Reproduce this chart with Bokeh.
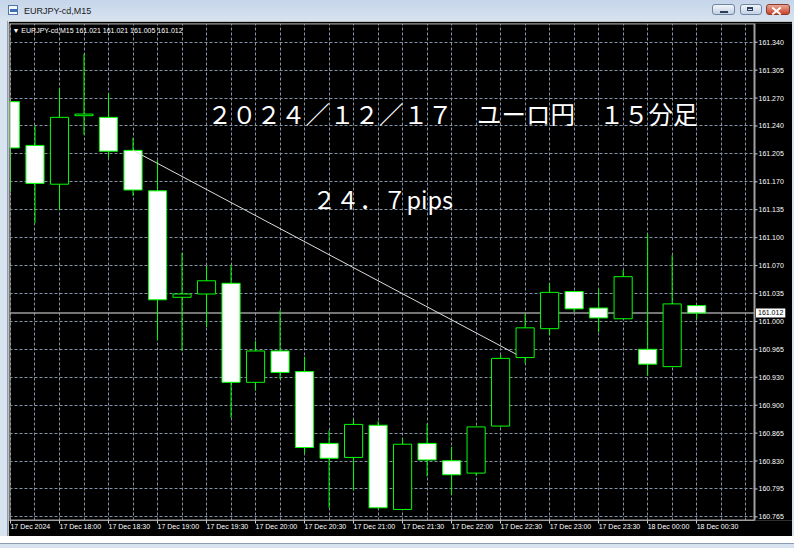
import numpy as np
from bokeh.plotting import figure
from bokeh.models import ColumnDataSource, Range1d, FixedTicker, Label, Span, Div
from bokeh.layouts import column, row
from bokeh.embed import file_html
from bokeh.resources import INLINE
from bokeh.core.properties import value

# ---------------- data ----------------
symbol = "EURJPY-cd,M15"
bar_times = ["17 Dec 17:30", "17 Dec 17:45", "17 Dec 18:00", "17 Dec 18:15", "17 Dec 18:30",
             "17 Dec 18:45", "17 Dec 19:00", "17 Dec 19:15", "17 Dec 19:30", "17 Dec 19:45",
             "17 Dec 20:00", "17 Dec 20:15", "17 Dec 20:30", "17 Dec 20:45", "17 Dec 21:00",
             "17 Dec 21:15", "17 Dec 21:30", "17 Dec 21:45", "17 Dec 22:00", "17 Dec 22:15",
             "17 Dec 22:30", "17 Dec 22:45", "17 Dec 23:00", "17 Dec 23:15", "17 Dec 23:30",
             "17 Dec 23:45", "18 Dec 00:00", "18 Dec 00:15", "18 Dec 00:30"]
opens = [161.268, 161.215, 161.168, 161.251, 161.249, 161.209, 161.160, 161.031, 161.035, 161.048,
         160.928, 160.966, 160.941, 160.854, 160.837, 160.876, 160.774, 160.854, 160.833, 160.818,
         160.875, 160.958, 160.993, 161.038, 161.018, 161.005, 160.968, 160.947, 161.021]
highs = [161.270, 161.239, 161.284, 161.326, 161.278, 161.224, 161.197, 161.085, 161.069, 161.070,
         160.978, 161.015, 160.959, 160.870, 160.883, 160.881, 160.860, 160.878, 160.850, 160.874,
         160.961, 161.011, 161.048, 161.038, 161.041, 161.064, 161.108, 161.082, 161.021]
lows = [161.159, 161.121, 161.137, 161.228, 161.200, 161.154, 160.979, 160.966, 160.995, 160.885,
        160.918, 160.932, 160.842, 160.776, 160.797, 160.775, 160.774, 160.814, 160.792, 160.815,
        160.874, 160.951, 160.985, 161.013, 160.989, 161.005, 160.936, 160.947, 161.005]
closes = [161.212, 161.169, 161.249, 161.253, 161.208, 161.161, 161.028, 161.035, 161.051, 160.928,
          160.966, 160.940, 160.849, 160.836, 160.877, 160.776, 160.853, 160.834, 160.816, 160.874,
          160.957, 160.994, 161.037, 161.017, 161.006, 161.056, 160.950, 161.023, 161.012]

price_tick_labels = ["161.340", "161.305", "161.270", "161.240", "161.205", "161.170",
                     "161.135", "161.100", "161.070", "161.035", "161.000", "160.965",
                     "160.930", "160.900", "160.865", "160.830", "160.795", "160.765"]
time_tick_labels = ["17 Dec 2024", "17 Dec 18:00", "17 Dec 18:30", "17 Dec 19:00",
                    "17 Dec 19:30", "17 Dec 20:00", "17 Dec 20:30", "17 Dec 21:00",
                    "17 Dec 21:30", "17 Dec 22:00", "17 Dec 22:30", "17 Dec 23:00",
                    "17 Dec 23:30", "18 Dec 00:00", "18 Dec 00:30"]
time_tick_bars = [0, 2, 4, 6, 8, 10, 12, 14, 16, 18, 20, 22, 24, 26, 28]

trend_bars = [5.0, 20.64]
trend_prices = [161.209, 160.962]

title_text = "２０２４／１２／１７　ユーロ円　１５分足"
pips_text = "２４．７pips"

# ---------------- layout / style ----------------
TOTAL_W, TOTAL_H = 794, 541
BAR_H, LEFT_W, RIGHT_W, BOTTOM_H = 21, 8, 2, 5
FW = TOTAL_W - LEFT_W - RIGHT_W          # 784
FH = TOTAL_H - BAR_H - BOTTOM_H          # 515
MB_L, MB_T, MB_R = 1, 2, 0
CHART_W, FRAME_H = 745, 498              # chart area inside the frame
FRAME_W = FW - MB_L - MB_R               # frame also holds the price scale
MB_B = FH - MB_T - FRAME_H

x_lo, x_chart = -0.04, 30.36             # bar-index range of the chart area
ppx = CHART_W / (x_chart - x_lo)
x_hi = x_lo + FRAME_W / ppx
y_lo, y_hi = 160.7606, 161.3627
ppu = FRAME_H / (y_hi - y_lo)

BULL_FILL, BEAR_FILL, CANDLE_LINE = "black", "white", "#00ff00"
GRID = "#8593a6"
FRAME = "#a0a0a0"
TICK = "#d0d0d0"
WIN = "#d8e3f0"

n = len(opens)
xs = list(range(n))
tops = [max(o, c) for o, c in zip(opens, closes)]
bots = [min(o, c) for o, c in zip(opens, closes)]
fills = [BULL_FILL if c > o else BEAR_FILL for o, c in zip(opens, closes)]
src = ColumnDataSource(dict(x=xs, t=bar_times, open=opens, high=highs, low=lows, close=closes,
                            top=tops, bottom=bots, fill=fills))

p = figure(width=FW, height=FH, x_range=Range1d(x_lo, x_hi), y_range=Range1d(y_lo, y_hi),
           output_backend="svg", toolbar_location=None, y_axis_location=None,
           min_border_left=MB_L, min_border_right=MB_R, min_border_top=MB_T,
           min_border_bottom=MB_B,
           background_fill_color="black", border_fill_color="black")
p.outline_line_color = None

# grid
price_tick_pos = [round(v, 6) for v in np.linspace(float(price_tick_labels[0]),
                                                   float(price_tick_labels[-1]),
                                                   len(price_tick_labels))]
p.xgrid.ticker = FixedTicker(ticks=list(range(0, 31)))
p.ygrid.ticker = FixedTicker(ticks=price_tick_pos)
for g in (p.xgrid, p.ygrid):
    g.grid_line_color = GRID
    g.grid_line_dash = "3 2"
    g.grid_line_width = 1

# bottom time axis: labels start at their tick, as in MT4
xa = p.xaxis[0]
xa.ticker = FixedTicker(ticks=time_tick_bars)
xa.bounds = (x_lo, x_chart)
xa.major_label_overrides = {b: s for b, s in zip(time_tick_bars, time_tick_labels)}
xa.major_label_orientation = -1e-6
xa.axis_line_color = FRAME
xa.major_tick_line_color = TICK
xa.major_tick_out = 3
xa.major_tick_in = 0
xa.minor_tick_line_color = None
xa.major_label_text_color = "white"
xa.major_label_text_font = "Liberation Sans"
xa.major_label_text_font_size = "7px"
xa.major_label_standoff = 3

# current price line
p.add_layout(Span(location=closes[-1], dimension="width", line_color="#9c9c9c",
                  line_width=1.5, level="underlay"))

# candles
p.segment(x0="x", y0="low", x1="x", y1="high", source=src, line_color=CANDLE_LINE, line_width=1)
p.vbar(x="x", top="top", bottom="bottom", width=0.74, source=src,
       fill_color="fill", line_color=CANDLE_LINE, line_width=1)

# trend line
p.line(trend_bars, trend_prices, line_color="#dcdcdc", line_width=1)

# price scale area (right of the chart) and chart border
p.quad(left=[x_chart], right=[x_hi], bottom=[y_lo], top=[y_hi],
       fill_color="black", line_color=None)
p.quad(left=[x_lo], right=[x_chart], bottom=[y_lo], top=[y_hi],
       fill_color=None, line_color=FRAME, line_width=2)
p.segment(x0=[x_chart] * len(price_tick_pos), x1=[x_chart + 3 / ppx] * len(price_tick_pos),
          y0=price_tick_pos, y1=price_tick_pos, line_color=TICK, line_width=1)
p.text(x=[x_chart + 4 / ppx] * len(price_tick_pos), y=price_tick_pos, text=price_tick_labels,
       text_color="white", text_font=value("Liberation Sans"), text_font_size=value("7px"),
       text_align="left", text_baseline="middle")

# header text inside the chart
hdr = "\u25bc " + symbol + "  " + " ".join(f"{v:.3f}" for v in
                                            (opens[-1], highs[-1], lows[-1], closes[-1]))
p.add_layout(Label(x=x_lo + 3 / ppx, y=y_hi - 6.8 / ppu, text=hdr, text_color="white",
                   text_font="Liberation Sans", text_font_size="7px",
                   text_baseline="middle", text_align="left"))

# current price tag on the price scale
p.add_layout(Label(x=x_chart + 1.5 / ppx, y=closes[-1], text=f"{closes[-1]:.3f}",
                   text_color="black", text_font="Liberation Sans", text_font_size="7px",
                   text_baseline="middle", text_align="left",
                   background_fill_color="white", padding=2))

# chart annotations
p.add_layout(Label(x=8.04, y=161.2535, text=title_text, text_color="white",
                   text_font="Noto Sans CJK JP", text_font_size="24.5px",
                   text_baseline="middle", text_align="left"))
p.add_layout(Label(x=12.32, y=161.150, text=pips_text, text_color="white",
                   text_font="Noto Sans CJK JP", text_font_size="23.5px",
                   text_baseline="middle", text_align="left"))

# ---------------- window frame (title bar and borders) ----------------
btn = ("position:absolute;top:4px;height:11px;border:1px solid #6f86a3;border-radius:3px;"
       "background:linear-gradient(#f2f6fb,#c3d1e4);")
xline = ("position:absolute;left:771px;width:11px;height:2px;top:10px;background:white;")
bar_html = (
    '<div style="position:relative;width:794px;height:21px;overflow:hidden;'
    'background:linear-gradient(#c6d5ea,#d8e3f0);font-family:\'Liberation Sans\',sans-serif;">'
    '<div style="position:absolute;left:8px;top:5px;width:10px;height:10px;'
    'border:1px solid #4f74a6;background:#f3f7fc;"></div>'
    '<div style="position:absolute;left:10px;top:9px;width:7px;height:3px;background:#3d6fb8;"></div>'
    '<div style="position:absolute;left:24px;top:6px;line-height:11px;font-size:9px;'
    'color:#1b1b1b;">' + symbol + '</div>'
    '<div style="' + btn + 'left:712px;width:23px;"></div>'
    '<div style="position:absolute;left:720px;top:11px;width:8px;height:2px;background:#2b3d57;"></div>'
    '<div style="' + btn + 'left:740px;width:22px;"></div>'
    '<div style="position:absolute;left:747px;top:7px;width:6px;height:4px;'
    'border:1px solid #2b3d57;border-top-width:2px;"></div>'
    '<div style="position:absolute;top:4px;left:766px;width:24px;height:11px;'
    'border:1px solid #8a3b2c;border-radius:3px;background:linear-gradient(#eaa796,#c7442c);"></div>'
    '<div style="' + xline + 'transform:rotate(40deg);"></div>'
    '<div style="' + xline + 'transform:rotate(-40deg);"></div>'
    '</div>')
titlebar = Div(text=bar_html, width=TOTAL_W, height=BAR_H, margin=(0, 0, 0, 0))
left_edge = Div(text='<div style="width:8px;height:%dpx;background:%s;'
                     'box-shadow:inset -1px 0 0 #8e9db3;"></div>' % (FH, WIN),
                width=LEFT_W, height=FH, margin=(0, 0, 0, 0))
right_edge = Div(text='<div style="width:2px;height:%dpx;background:%s;"></div>' % (FH, WIN),
                 width=RIGHT_W, height=FH, margin=(0, 0, 0, 0))
bottom_edge = Div(text='<div style="width:%dpx;height:%dpx;background:%s;'
                       'box-shadow:inset 0 1px 0 #8e9db3;"></div>' % (TOTAL_W, BOTTOM_H, WIN),
                  width=TOTAL_W, height=BOTTOM_H, margin=(0, 0, 0, 0))

layout = column(titlebar, row(left_edge, p, right_edge, spacing=0), bottom_edge, spacing=0)
open("out.html", "w").write(file_html(layout, INLINE))
